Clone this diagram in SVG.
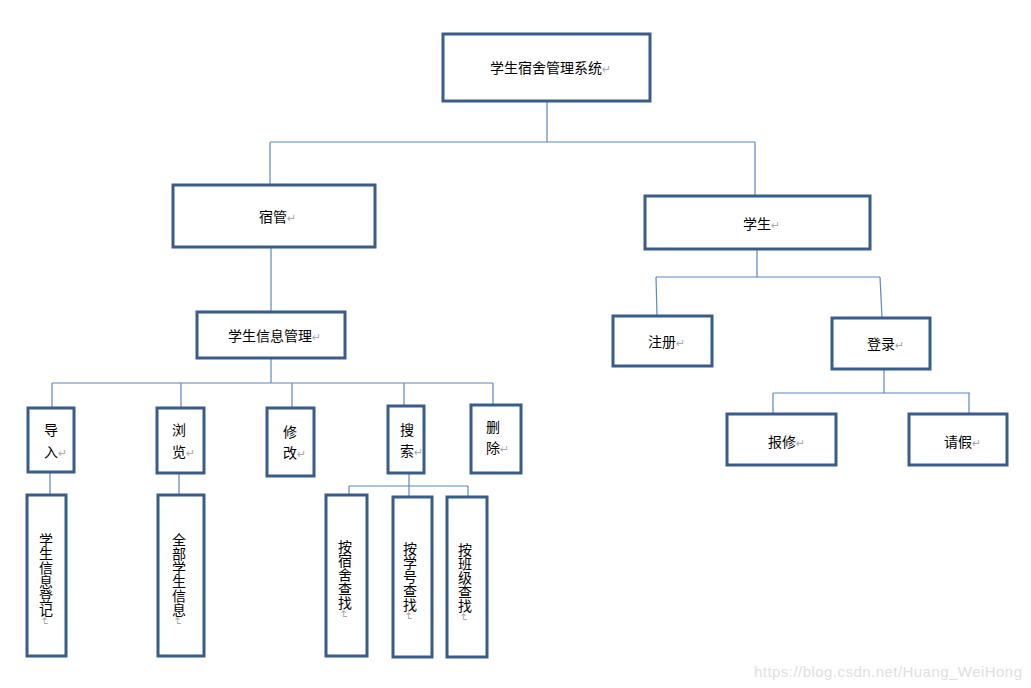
<svg xmlns="http://www.w3.org/2000/svg" width="1031" height="688" viewBox="0 0 1031 688">
<style>
.box{fill:#fff;stroke:#385d8a;stroke-width:3}
.t{font-family:"Noto Sans CJK SC","DejaVu Sans",sans-serif;font-size:14px;fill:#000}
.v{font-family:"Noto Sans CJK SC","DejaVu Sans",sans-serif;font-size:14px;fill:#000;writing-mode:vertical-rl}
.p{fill:#aaa;font-size:11px}
.c{stroke:#5a88c2;stroke-width:1.2;fill:none}
.wm{font-family:"Liberation Sans",Arial,sans-serif;font-size:15px;fill:#e0e0e0}
</style>
<rect width="1031" height="688" fill="#fff"/>
<g id="connectors">
<path class="c" d="M547 101V142M270 142H755M270 142V185M755 142V196"/>
<path class="c" d="M271 247V312"/>
<path class="c" d="M271 358V383M52 383H493M52 383V408M181 383V408M292 383V408M404 383V406M493 383V405"/>
<path class="c" d="M50 473V495M179 473V495"/>
<path class="c" d="M409 473V500M349 486H468M349 486V495M468 486V500"/>
<path class="c" d="M757 249V277M656 277H880M656 277L657 316M880 277L882 318"/>
<path class="c" d="M884 369V393M773 393H970M773 393V414M969 393V414"/>
</g>
<g id="n-root"><rect class="box" x="443" y="34" width="207" height="67"/><text class="t" x="490" y="73">学生宿舍管理系统<tspan class="p">↵</tspan></text></g>
<g id="n-suguan"><rect class="box" x="173" y="185" width="202" height="62"/><text class="t" x="259" y="222">宿管<tspan class="p">↵</tspan></text></g>
<g id="n-xuesheng"><rect class="box" x="645" y="196" width="225" height="53"/><text class="t" x="743" y="229">学生<tspan class="p">↵</tspan></text></g>
<g id="n-xxgl"><rect class="box" x="197" y="312" width="148" height="46"/><text class="t" x="228" y="341">学生信息管理<tspan class="p">↵</tspan></text></g>
<g id="n-zhuce"><rect class="box" x="613" y="316" width="99" height="50"/><text class="t" x="648" y="347">注册<tspan class="p">↵</tspan></text></g>
<g id="n-denglu"><rect class="box" x="832" y="318" width="98" height="51"/><text class="t" x="867" y="349">登录<tspan class="p">↵</tspan></text></g>
<g id="n-baoxiu"><rect class="box" x="727" y="414" width="109" height="51"/><text class="t" x="768" y="447">报修<tspan class="p">↵</tspan></text></g>
<g id="n-qingjia"><rect class="box" x="909" y="414" width="98" height="51"/><text class="t" x="944" y="447">请假<tspan class="p">↵</tspan></text></g>
<g id="n-daoru"><rect class="box" x="28" y="408" width="46" height="64"/><text class="t" x="44" y="435">导</text><text class="t" x="44" y="457">入<tspan class="p">↵</tspan></text></g>
<g id="n-liulan"><rect class="box" x="157" y="408" width="47" height="65"/><text class="t" x="172" y="435">浏</text><text class="t" x="172" y="457">览<tspan class="p">↵</tspan></text></g>
<g id="n-xiugai"><rect class="box" x="267" y="408" width="47" height="68"/><text class="t" x="283" y="437">修</text><text class="t" x="283" y="458">改<tspan class="p">↵</tspan></text></g>
<g id="n-sousuo"><rect class="box" x="388" y="406" width="36" height="67"/><text class="t" x="400" y="435">搜</text><text class="t" x="400" y="456">索<tspan class="p">↵</tspan></text></g>
<g id="n-shanchu"><rect class="box" x="471" y="405" width="50" height="68"/><text class="t" x="486" y="432">删</text><text class="t" x="486" y="453">除<tspan class="p">↵</tspan></text></g>
<g id="n-dengji"><rect class="box" x="27" y="495" width="39" height="161"/><text class="v" x="46" y="533">学生信息登记<tspan class="p">↵</tspan></text></g>
<g id="n-quanbu"><rect class="box" x="158" y="495" width="46" height="161"/><text class="v" x="179" y="533">全部学生信息<tspan class="p">↵</tspan></text></g>
<g id="n-sushe"><rect class="box" x="326" y="495" width="41" height="161"/><text class="v" x="345" y="540">按宿舍查找<tspan class="p">↵</tspan></text></g>
<g id="n-xuehao"><rect class="box" x="393" y="497" width="39" height="160"/><text class="v" x="410" y="542">按学号查找<tspan class="p">↵</tspan></text></g>
<g id="n-banji"><rect class="box" x="447" y="497" width="40" height="160"/><text class="v" x="465" y="543">按班级查找<tspan class="p">↵</tspan></text></g>
<text class="wm" x="754" y="677" textLength="268">https://blog.csdn.net/Huang_WeiHong</text>
</svg>
